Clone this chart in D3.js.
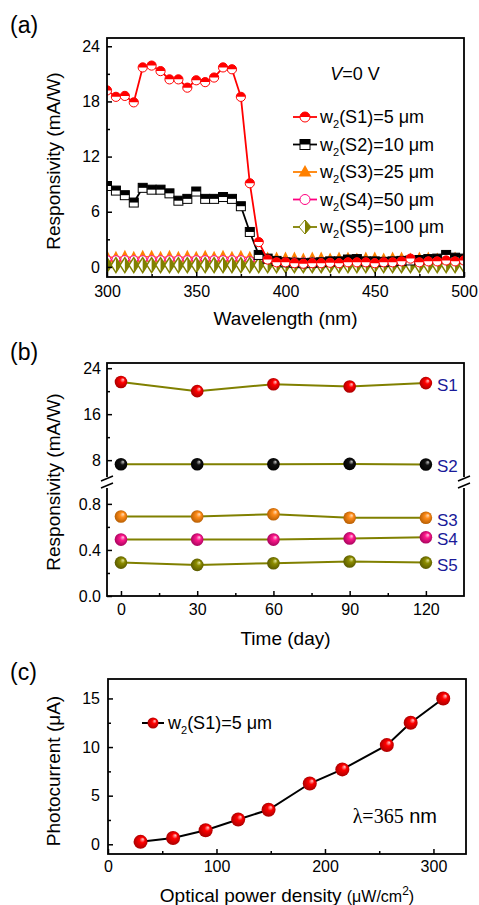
<!DOCTYPE html>
<html>
<head>
<meta charset="utf-8">
<script src="https://cdn.jsdelivr.net/npm/d3@7"></script>
<style>
    body { margin: 0; background: #fff; }
    svg { display: block; font-family: Arial, "Liberation Sans", sans-serif; }
    .tick text { font-size: 16px; fill: #000; font-family: Arial, "Liberation Sans", sans-serif; }
    .axisLabel { font-size: 19px; fill: #000; }
</style>
</head>
<body>
<svg id="figure" width="479" height="905"></svg>
<script>
// (a) spectral responsivity, one point every 5 nm
const wavelength = [300, 305, 310, 315, 320, 325, 330, 335, 340, 345, 350, 355, 360, 365, 370, 375, 380, 385, 390, 395,
    400, 405, 410, 415, 420, 425, 430, 435, 440, 445, 450, 455, 460, 465, 470, 475, 480, 485, 490, 495, 500];
const respS1 = [19.2, 18.5, 18.6, 17.9, 21.7, 21.9, 21.3, 20.4, 20.4, 19.5, 20.3, 20.1, 20.6, 21.7, 21.5, 18.5, 9.1, 2.7, 0.8, 0.5,
    0.5, 0.4, 0.35, 0.4, 0.4, 0.45, 0.4, 0.5, 0.5, 0.5, 0.4, 0.5, 0.5, 0.6, 0.9, 0.5, 0.6, 0.6, 0.7, 0.6, 0.7];
const respS2 = [8.8, 8.3, 7.8, 7.0, 8.6, 8.4, 8.4, 8.0, 7.2, 7.4, 8.2, 7.4, 7.4, 7.6, 7.4, 6.6, 3.8, 1.3, 0.9, 0.65,
    0.5, 0.45, 0.4, 0.45, 0.5, 0.6, 0.6, 0.8, 0.85, 0.6, 0.6, 0.55, 0.6, 0.65, 0.7, 0.75, 0.85, 0.9, 1.3, 1.0, 0.9];
const respS3 = [1.1, 1.0, 1.1, 1.0, 1.1, 1.1, 1.0, 1.1, 1.0, 1.1, 1.0, 1.1, 1.0, 1.1, 1.0, 1.1, 1.0, 1.0, 0.9, 0.9,
    0.9, 0.9, 0.8, 0.9, 0.9, 0.8, 0.9, 0.9, 0.8, 0.9, 0.9, 0.8, 0.9, 0.9, 0.8, 0.9, 0.9, 0.8, 0.9, 0.9, 0.9];
const respS4 = [0.8, 0.8, 0.8, 0.8, 0.8, 0.8, 0.8, 0.8, 0.8, 0.8, 0.8, 0.8, 0.8, 0.8, 0.8, 0.8, 0.7, 0.7, 0.7, 0.7,
    0.6, 0.6, 0.6, 0.6, 0.6, 0.6, 0.6, 0.6, 0.6, 0.6, 0.6, 0.6, 0.6, 0.6, 0.6, 0.6, 0.6, 0.6, 0.6, 0.6, 0.6];
const respS5 = [0.2, 0.2, 0.2, 0.2, 0.2, 0.2, 0.2, 0.2, 0.2, 0.2, 0.2, 0.2, 0.2, 0.2, 0.2, 0.2, 0.2, 0.2, 0.2, 0.2,
    0.2, 0.2, 0.2, 0.2, 0.2, 0.2, 0.2, 0.2, 0.2, 0.2, 0.2, 0.2, 0.2, 0.2, 0.2, 0.2, 0.2, 0.2, 0.2, 0.2, 0.2];
const legendA = ['(S1)=5 μm', '(S2)=10 μm', '(S3)=25 μm', '(S4)=50 μm', '(S5)=100 μm'];

// (b) stability over time
const days = [0, 30, 60, 90, 120];
const stabS1 = [21.6, 20.0, 21.2, 20.8, 21.4];
const stabS2 = [7.3, 7.3, 7.3, 7.35, 7.25];
const stabS3 = [0.69, 0.69, 0.71, 0.68, 0.68];
const stabS4 = [0.49, 0.49, 0.49, 0.50, 0.51];
const stabS5 = [0.29, 0.27, 0.285, 0.30, 0.29];
const stabNames = ['S1', 'S2', 'S3', 'S4', 'S5'];

// (c) photocurrent vs optical power density
const powerDensity = [30, 60, 90, 120, 148, 186, 216, 257, 279, 309];
const photocurrent = [0.25, 0.65, 1.45, 2.55, 3.55, 6.25, 7.7, 10.2, 12.5, 15.0];

const svg = d3.select('#figure');
const defs = svg.append('defs');

// shiny balls
const ballColors = { red: ['#ffd0d0', '#ff0000', '#a00000'], black: ['#cccccc', '#111111', '#000000'],
    orange: ['#ffe0c0', '#ff8c1a', '#b05a00'], pink: ['#ffd0ea', '#ff1a8c', '#a0005a'], olive: ['#e8e8a0', '#8c8c00', '#555500'] };
Object.keys(ballColors).forEach(k => {
    const g = defs.append('radialGradient').attr('id', 'ball-' + k)
        .attr('cx', 0.5).attr('cy', 0.5).attr('r', 0.55).attr('fx', 0.68).attr('fy', 0.3);
    g.append('stop').attr('offset', '0%').attr('stop-color', ballColors[k][0]);
    g.append('stop').attr('offset', '35%').attr('stop-color', ballColors[k][1]);
    g.append('stop').attr('offset', '100%').attr('stop-color', ballColors[k][2]);
});

function drawFrame(g, x0, y0, x1, y1) {
    g.append('rect')
        .attr('x', x0).attr('y', y0)
        .attr('width', x1 - x0).attr('height', y1 - y0)
        .attr('fill', 'none').attr('stroke', '#000').attr('stroke-width', 1.8);
}

// makeAxis returns a fresh d3 axis each call
function drawAxes(g, makeAxis, translate, major, minor, fmt, pad) {
    const maj = g.append('g').attr('transform', translate)
        .call(makeAxis().tickValues(major).tickSize(-5).tickPadding(pad).tickFormat(fmt));
    maj.select('.domain').remove();
    maj.selectAll('line').attr('stroke-width', 1.5);
    const mn = g.append('g').attr('transform', translate)
        .call(makeAxis().tickValues(minor).tickSize(-3).tickFormat(''));
    mn.select('.domain').remove();
    mn.selectAll('line').attr('stroke-width', 1.5);
}

function panelLabel(txt, y) {
    svg.append('text').text(txt).attr('x', 10).attr('y', y)
        .style('font-size', '23px').attr('fill', '#000');
}

function legendText(g, x, y, rest) {
    const t = g.append('text').attr('x', x).attr('y', y).style('font-size', '18px');
    t.append('tspan').text('w');
    t.append('tspan').text('2').style('font-size', '11px').attr('dy', 5);
    t.append('tspan').text(rest).attr('dy', -5);
}

// ---------- (a) ----------
function plotSpectrum() {
    const x0 = 107, x1 = 464, y0 = 38, y1 = 277;
    const xScale = d3.scaleLinear().domain([300, 500]).range([x0, x1]);
    const yScale = d3.scaleLinear().domain([-1.1, 24.9]).range([y1, y0]);
    const g = svg.append('g');

    defs.append('clipPath').attr('id', 'clipA')
        .append('rect').attr('x', x0).attr('y', y0).attr('width', x1 - x0).attr('height', y1 - y0);
    const plot = g.append('g').attr('clip-path', 'url(#clipA)');

    const line = vals => d3.line().x((d, i) => xScale(wavelength[i])).y(d => yScale(d))(vals);

    // S3 triangles
    plot.append('path').attr('d', line(respS3)).attr('fill', 'none').attr('stroke', '#ff8000').attr('stroke-width', 1.5);
    plot.append('g').selectAll('path').data(respS3).enter().append('path')
        .attr('transform', (d, i) => `translate(${xScale(wavelength[i])},${yScale(d)})`)
        .attr('d', 'M0,-7L6,5H-6Z').attr('fill', '#ff8000');
    // S4 open circles
    plot.append('path').attr('d', line(respS4)).attr('fill', 'none').attr('stroke', '#ff0080').attr('stroke-width', 1);
    plot.append('g').selectAll('circle').data(respS4).enter().append('circle')
        .attr('cx', (d, i) => xScale(wavelength[i])).attr('cy', d => yScale(d)).attr('r', 4)
        .attr('fill', '#fff').attr('stroke', '#ff0080').attr('stroke-width', 1);
    // S5 half diamonds
    plot.append('path').attr('d', line(respS5)).attr('fill', 'none').attr('stroke', '#808000').attr('stroke-width', 1);
    const dia = plot.append('g').selectAll('g').data(respS5).enter().append('g')
        .attr('transform', (d, i) => `translate(${xScale(wavelength[i])},${yScale(d)})`);
    dia.append('path').attr('d', 'M0,-7.5L4.8,0L0,7.5L-4.8,0Z').attr('fill', '#fff').attr('stroke', '#808000').attr('stroke-width', 1.5);
    dia.append('path').attr('d', 'M0,-7.5L4.8,0L0,7.5Z').attr('fill', '#808000');

    // S2 half squares
    plot.append('path').attr('d', line(respS2)).attr('fill', 'none').attr('stroke', '#000').attr('stroke-width', 1.8);
    const sq = plot.append('g').selectAll('g').data(respS2).enter().append('g')
        .attr('transform', (d, i) => `translate(${xScale(wavelength[i])},${yScale(d)})`);
    sq.append('rect').attr('x', -4.5).attr('y', -4.5).attr('width', 9).attr('height', 9)
        .attr('fill', '#fff').attr('stroke', '#000').attr('stroke-width', 1);
    sq.append('rect').attr('x', -4.5).attr('y', -4.5).attr('width', 9).attr('height', 4.5).attr('fill', '#000');

    // S1 half circles
    plot.append('path').attr('d', line(respS1)).attr('fill', 'none').attr('stroke', '#ff0000').attr('stroke-width', 1.8);
    const ci = plot.append('g').selectAll('g').data(respS1).enter().append('g')
        .attr('transform', (d, i) => `translate(${xScale(wavelength[i])},${yScale(d)})`);
    ci.append('circle').attr('r', 4.6).attr('fill', '#fff').attr('stroke', '#ff0000').attr('stroke-width', 1);
    ci.append('path').attr('d', 'M-4.6,0A4.6,4.6 0 0 1 4.6,0Z').attr('fill', '#ff0000');

    drawAxes(g, () => d3.axisLeft(yScale), `translate(${x0},0)`, [0, 6, 12, 18, 24], [3, 9, 15, 21], d3.format('d'), 7);
    drawAxes(g, () => d3.axisBottom(xScale), `translate(0,${y1})`, [300, 350, 400, 450, 500], [325, 375, 425, 475], d3.format('d'), 9);
    drawFrame(g, x0, y0, x1, y1);

    // legend
    const colors = ['#ff0000', '#000', '#ff8000', '#ff0080', '#808000'];
    legendA.forEach((txt, i) => {
        const ly = 117 + i * 27.5;
        g.append('line').attr('x1', 293).attr('x2', 317).attr('y1', ly).attr('y2', ly)
            .attr('stroke', colors[i]).attr('stroke-width', 1.8);
        const m = g.append('g').attr('transform', `translate(305,${ly})`);
        if (i === 0) {
            m.append('circle').attr('r', 5).attr('fill', '#fff').attr('stroke', '#ff0000');
            m.append('path').attr('d', 'M-5,0A5,5 0 0 1 5,0Z').attr('fill', '#ff0000');
        } else if (i === 1) {
            m.append('rect').attr('x', -5).attr('y', -5).attr('width', 10).attr('height', 10).attr('fill', '#fff').attr('stroke', '#000');
            m.append('rect').attr('x', -5).attr('y', -5).attr('width', 10).attr('height', 5).attr('fill', '#000');
        } else if (i === 2) {
            m.append('path').attr('d', 'M0,-7L6.5,4.5H-6.5Z').attr('fill', '#ff8000');
        } else if (i === 3) {
            m.append('circle').attr('r', 5).attr('fill', '#fff').attr('stroke', '#ff0080');
        } else {
            m.append('path').attr('d', 'M0,-7L6,0L0,7L-6,0Z').attr('fill', '#fff').attr('stroke', '#808000');
            m.append('path').attr('d', 'M0,-7L6,0L0,7Z').attr('fill', '#808000');
        }
        legendText(g, 320, ly + 6, txt);
    });

    const vt = g.append('text').attr('x', 355).attr('y', 80).attr('text-anchor', 'middle').style('font-size', '18px');
    vt.append('tspan').text('V').style('font-style', 'italic');
    vt.append('tspan').text('=0 V');

    g.append('text').attr('class', 'axisLabel').text('Wavelength (nm)')
        .attr('x', (x0 + x1) / 2).attr('y', 325).style('text-anchor', 'middle');
    g.append('text').attr('class', 'axisLabel').text('Responsivity (mA/W)')
        .attr('transform', 'rotate(-90)').attr('x', -161).attr('y', 60).style('text-anchor', 'middle');
}

// ---------- (b) ----------
function plotStability() {
    const x0 = 107, x1 = 464, y0 = 363, y1 = 596, yb = 482;
    const xScale = d3.scaleLinear().domain([-5.5, 135]).range([x0, x1]);
    const yLow = d3.scaleLinear().domain([0, 0.99]).range([y1, yb]);
    const yHigh = d3.scaleLinear().domain([4.2, 24.9]).range([yb, y0]);
    const g = svg.append('g');

    const series = [
        { vals: stabS1, scale: yHigh, color: 'red' },
        { vals: stabS2, scale: yHigh, color: 'black' },
        { vals: stabS3, scale: yLow, color: 'orange' },
        { vals: stabS4, scale: yLow, color: 'pink' },
        { vals: stabS5, scale: yLow, color: 'olive' }
    ];

    series.forEach((s, k) => {
        g.append('path')
            .attr('d', d3.line().x((d, i) => xScale(days[i])).y(d => s.scale(d))(s.vals))
            .attr('fill', 'none').attr('stroke', '#808000').attr('stroke-width', 2);
        g.append('g').selectAll('circle').data(s.vals).enter().append('circle')
            .attr('cx', (d, i) => xScale(days[i])).attr('cy', d => s.scale(d)).attr('r', 6.3)
            .attr('fill', `url(#ball-${s.color})`);
        g.append('text').text(stabNames[k])
            .attr('x', 437).attr('y', s.scale(s.vals[s.vals.length - 1]) + 8)
            .style('font-size', '17px').attr('fill', '#1a1a99');
    });

    drawAxes(g, () => d3.axisLeft(yHigh), `translate(${x0},0)`, [8, 16, 24], [12, 20], d3.format('d'), 6);
    drawAxes(g, () => d3.axisLeft(yLow), `translate(${x0},0)`, [0, 0.4, 0.8], [0.2, 0.6], d3.format('.1f'), 6);
    drawAxes(g, () => d3.axisBottom(xScale), `translate(0,${y1})`, days, [15, 45, 75, 105], d3.format('d'), 8);
    drawFrame(g, x0, y0, x1, y1);

    // axis break marks
    [x0, x1].forEach(xa => {
        g.append('rect').attr('x', xa - 2).attr('y', yb - 5).attr('width', 4).attr('height', 11).attr('fill', '#fff');
        g.append('line').attr('x1', xa - 6).attr('y1', yb - 1).attr('x2', xa + 6).attr('y2', yb - 6)
            .attr('stroke', '#000').attr('stroke-width', 1.5);
        g.append('line').attr('x1', xa - 6).attr('y1', yb + 6).attr('x2', xa + 6).attr('y2', yb + 1)
            .attr('stroke', '#000').attr('stroke-width', 1.5);
    });

    g.append('text').attr('class', 'axisLabel').text('Time (day)')
        .attr('x', (x0 + x1) / 2).attr('y', 645).style('text-anchor', 'middle');
    g.append('text').attr('class', 'axisLabel').text('Responsivity (mA/W)')
        .attr('transform', 'rotate(-90)').attr('x', -482).attr('y', 60).style('text-anchor', 'middle');
}

// ---------- (c) ----------
function plotPhotocurrent() {
    const x0 = 108, x1 = 466, y0 = 679, y1 = 854;
    const xScale = d3.scaleLinear().domain([0, 330]).range([x0, x1]);
    const yScale = d3.scaleLinear().domain([-1, 17]).range([y1, y0]);
    const g = svg.append('g');

    g.append('path')
        .attr('d', d3.line().x((d, i) => xScale(powerDensity[i])).y(d => yScale(d))(photocurrent))
        .attr('fill', 'none').attr('stroke', '#000').attr('stroke-width', 2);
    g.append('g').selectAll('circle').data(photocurrent).enter().append('circle')
        .attr('cx', (d, i) => xScale(powerDensity[i])).attr('cy', d => yScale(d)).attr('r', 7)
        .attr('fill', 'url(#ball-red)');

    drawAxes(g, () => d3.axisLeft(yScale), `translate(${x0},0)`, [0, 5, 10, 15], [2.5, 7.5, 12.5], d3.format('d'), 8);
    drawAxes(g, () => d3.axisBottom(xScale), `translate(0,${y1})`, [0, 100, 200, 300], [50, 150, 250], d3.format('d'), 7);
    drawFrame(g, x0, y0, x1, y1);

    g.append('line').attr('x1', 142).attr('x2', 164).attr('y1', 723).attr('y2', 723).attr('stroke', '#000').attr('stroke-width', 2);
    g.append('circle').attr('cx', 153).attr('cy', 723).attr('r', 5.5).attr('fill', 'url(#ball-red)');
    legendText(g, 168, 729, '(S1)=5 μm');

    const lt = g.append('text').attr('x', 437).attr('y', 823).attr('text-anchor', 'end').style('font-size', '20px');
    lt.append('tspan').text('λ=365').style('font-family', '"Liberation Serif", "Times New Roman", serif');
    lt.append('tspan').text(' nm');

    const xt = g.append('text').attr('class', 'axisLabel')
        .attr('x', (x0 + x1) / 2).attr('y', 902).style('text-anchor', 'middle');
    xt.append('tspan').text('Optical power density ');
    xt.append('tspan').text('(μW/cm').style('font-size', '16px');
    xt.append('tspan').text('2').style('font-size', '12px').attr('dy', -7);
    xt.append('tspan').text(')').style('font-size', '16px').attr('dy', 7);
    g.append('text').attr('class', 'axisLabel').text('Photocurrent (μA)')
        .attr('transform', 'rotate(-90)').attr('x', -771).attr('y', 60).style('text-anchor', 'middle');
}

panelLabel('(a)', 33);
panelLabel('(b)', 360);
panelLabel('(c)', 680);
plotSpectrum();
plotStability();
plotPhotocurrent();
</script>
</body>
</html>
